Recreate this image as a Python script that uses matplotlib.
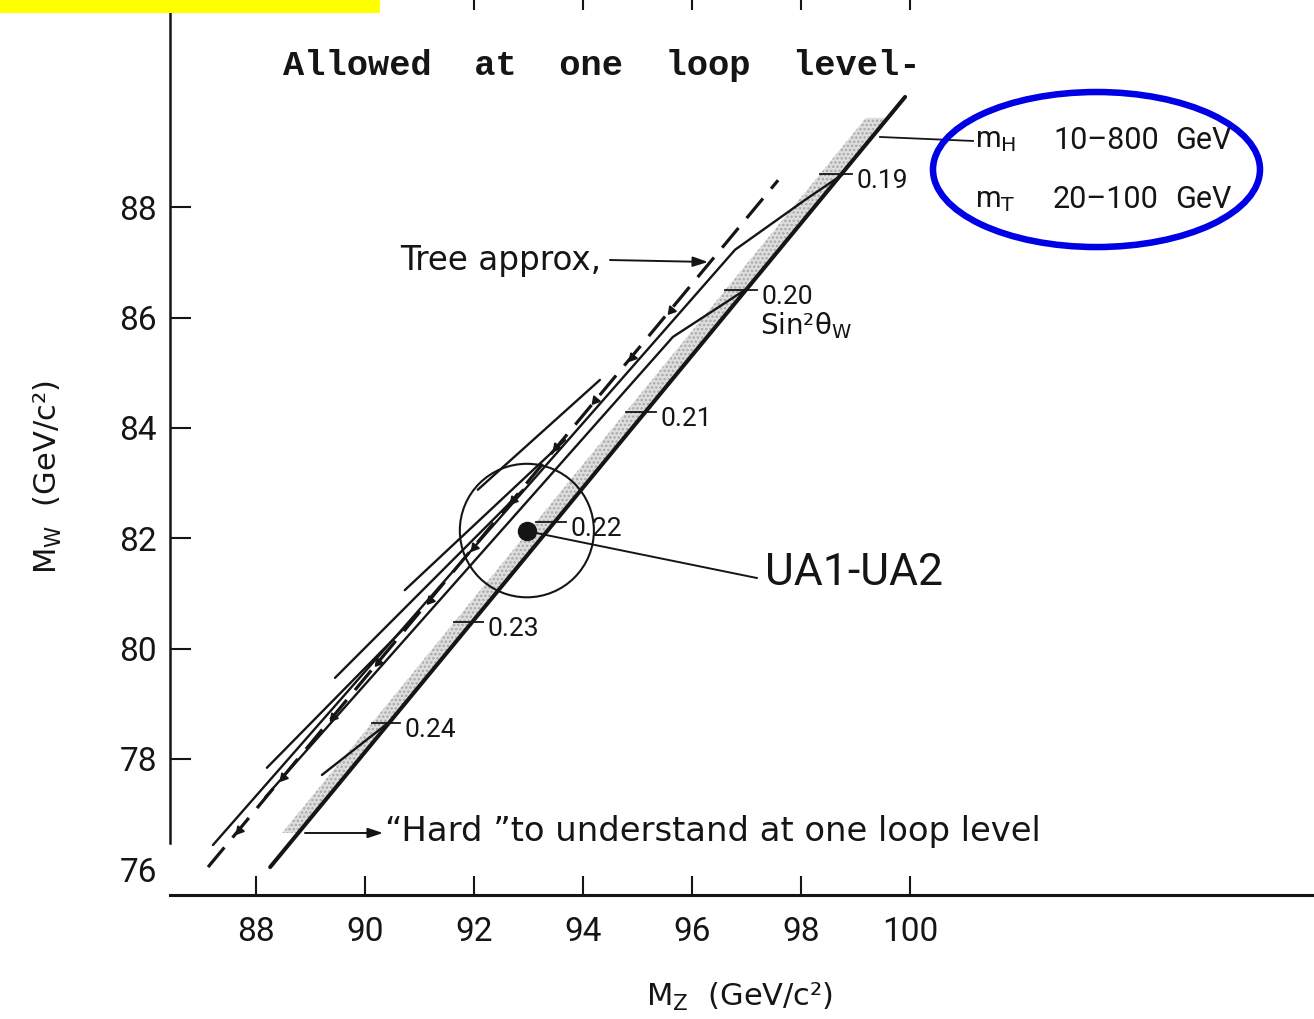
import numpy as np
import matplotlib
matplotlib.use("Agg")
import matplotlib.pyplot as plt
from matplotlib.patches import Ellipse, Rectangle

# ---------------- data ----------------
mz_ticks = [88, 90, 92, 94, 96, 98, 100]
mw_ticks = [76, 78, 80, 82, 84, 86, 88]

# thick right-hand edge of the one-loop region
edge_mz = [88.26, 99.91]
edge_mw = [76.04, 90.00]

# shaded strip ("hard to understand at one loop level")
strip_mw = [76.66, 89.62]
strip_left_mz = [88.48, 99.19]
strip_right_mz = [88.77, 99.59]

# tree approximation (dashed)
tree_mz = [87.12, 97.58]
tree_mw = [76.04, 88.49]
tree_arrow_mw = [76.71, 77.67, 78.76, 79.76, 80.88, 81.84, 82.69, 83.65, 84.50, 85.29, 86.14]

# one-loop curves (thin solid)
loop_a_mz = [87.21, 96.79, 98.07, 98.77]
loop_a_mw = [76.44, 87.23, 88.13, 88.60]
loop_b_mz = [88.17, 95.65, 96.97]
loop_b_mw = [77.31, 85.65, 86.50]
loop_c_mz = [89.21, 90.42]
loop_c_mw = [77.71, 78.65]
outer1_mz = [88.20, 90.83]
outer1_mw = [77.84, 80.48]
outer2_mz = [89.45, 92.90]
outer2_mw = [79.47, 82.88]
outer3_mz = [90.73, 93.67]
outer3_mw = [81.06, 83.78]
outer4_mz = [92.07, 94.31]
outer4_mw = [82.88, 84.87]

# sin^2 theta_W marks along the edge
sin2_labels = ["0.19", "0.20", "0.21", "0.22", "0.23", "0.24"]
sin2_mw = [88.60, 86.50, 84.29, 82.30, 80.48, 78.65]

# UA1-UA2 measurement
ua_mz, ua_mw = 92.97, 82.14
ua_rad_mz, ua_rad_mw = 1.23, 1.21

# ---------------- drawing ----------------
INK = "#151515"
NUM = ["Roboto", "DejaVu Sans"]
SANS = ["DejaVu Sans"]
plt.rcParams["mathtext.fontset"] = "dejavusans"
plt.rcParams["hatch.linewidth"] = 1.2

fig = plt.figure(figsize=(13.14, 10.19), dpi=100)
fig.patch.set_facecolor("white")
ax = fig.add_axes([170 / 1314, 124 / 1019, 1144 / 1314, 895 / 1019])
ax.set_xlim(86.422, 107.413)
ax.set_ylim(75.534, 91.757)
ax.patch.set_alpha(0)

for s in ["top", "right"]:
    ax.spines[s].set_visible(False)
ax.spines["bottom"].set_linewidth(2.2)
ax.spines["bottom"].set_color(INK)
ax.spines["left"].set_linewidth(1.8)
ax.spines["left"].set_color(INK)
ax.spines["left"].set_bounds(76.48, 91.757)

ax.set_xticks(mz_ticks)
ax.set_xticklabels([str(v) for v in mz_ticks])
ax.set_yticks(mw_ticks)
ax.set_yticklabels([str(v) for v in mw_ticks])
ax.tick_params(axis="x", direction="in", length=13.7, width=1.5, pad=15,
               labelsize=24, colors=INK)
ax.tick_params(axis="y", direction="in", length=15, width=1.5, pad=9.4,
               labelsize=24, colors=INK)
for lab in ax.get_xticklabels() + ax.get_yticklabels():
    lab.set_family(NUM)
ax.yaxis.get_major_ticks()[0].tick1line.set_visible(False)

# top tick stubs (cut off at the top edge)
ax.vlines(mz_ticks, 91.576, 91.757, lw=1.5, color=INK, clip_on=False)

# shaded strip (stippled)
ax.fill_betweenx(strip_mw, strip_left_mz, strip_right_mz, facecolor="#dedede",
                 edgecolor="#a8a8a8", hatch="....", lw=0, zorder=1)

# lines
ax.plot(edge_mz, edge_mw, lw=2.9, color=INK, solid_capstyle="round", zorder=3)
ax.plot(tree_mz, tree_mw, lw=2.3, ls=(0, (8, 4)), color=INK, zorder=3)
arrow_mz = np.interp(tree_arrow_mw, tree_mw, tree_mz)
ax.plot(arrow_mz, tree_arrow_mw, ls="none", marker=(3, 0, 140), ms=7, color=INK, zorder=3)
for mz, mw in [(loop_a_mz, loop_a_mw), (loop_b_mz, loop_b_mw), (loop_c_mz, loop_c_mw),
               (outer1_mz, outer1_mw), (outer2_mz, outer2_mw),
               (outer3_mz, outer3_mw), (outer4_mz, outer4_mw)]:
    ax.plot(mz, mw, lw=1.7, color=INK, solid_capstyle="round", zorder=3)

# sin^2 ticks and labels
for lab, mw in zip(sin2_labels, sin2_mw):
    xr = np.interp(mw, edge_mw, edge_mz)
    xl = np.interp(mw, strip_mw, strip_left_mz)
    ax.plot([xl, xr + 0.2], [mw, mw], lw=1.3, color=INK, zorder=3)
    ax.annotate(lab, (xr, mw), xytext=(11, -5), textcoords="offset points",
                ha="left", va="center", fontsize=19, family=NUM, color=INK)
ax.text(97.248, 85.848, "Sin²θ$_\\mathrm{W}$", fontsize=20, family=SANS,
        ha="left", va="center", color=INK)

# UA1-UA2 point and error circle
ax.add_patch(Ellipse((ua_mz, ua_mw), 2 * ua_rad_mz, 2 * ua_rad_mw, fill=False,
                     lw=1.5, ec=INK, zorder=3))
ax.plot([ua_mz], [ua_mw], "o", ms=13, color=INK, zorder=4)
ax.plot([ua_mz + 0.2, 97.19], [ua_mw - 0.05, 81.28], lw=1.4, color=INK, zorder=3)
ax.text(97.339, 81.371, "UA1-UA2", fontsize=32, family=NUM, ha="left",
        va="center", color=INK)

# annotations
ax.text(88.495, 90.578, "Allowed  at  one  loop  level-", fontsize=25.5,
        family=["Liberation Mono", "DejaVu Sans Mono"], fontweight="bold",
        ha="left", va="center", color=INK)
ax.text(90.642, 87.044, "Tree approx,", fontsize=23.5, family=SANS, ha="left",
        va="center", color=INK)
ax.annotate("", xy=(96.294, 87.008), xytext=(94.495, 87.044),
            arrowprops=dict(arrowstyle="-|>,head_length=0.9,head_width=0.3",
                            lw=1.4, color=INK, shrinkA=0, shrinkB=0))
ax.text(90.367, 76.676, "\u201cHard \u201dto understand at one loop level",
        fontsize=24.3, family=SANS, ha="left", va="center", color=INK)
ax.annotate("", xy=(90.33, 76.658), xytext=(88.899, 76.658),
            arrowprops=dict(arrowstyle="-|>,head_length=0.9,head_width=0.3",
                            lw=1.4, color=INK, shrinkA=0, shrinkB=0))

# mH / mT box
ax.plot([99.45, 101.156], [89.274, 89.202], lw=1.3, color=INK)
ax.text(101.193, 89.219, "m$_\\mathrm{H}$", fontsize=21, family=NUM,
        ha="left", va="center", color=INK)
ax.text(101.193, 88.132, "m$_\\mathrm{T}$", fontsize=21, family=NUM,
        ha="left", va="center", color=INK)
ax.text(102.624, 89.219, "10\u2013800", fontsize=22, family=NUM, ha="left",
        va="center", color=INK)
ax.text(102.624, 88.132, "20\u2013100", fontsize=22, family=NUM, ha="left",
        va="center", color=INK)
ax.text(104.862, 89.219, "GeV", fontsize=22, family=NUM, ha="left",
        va="center", color=INK)
ax.text(104.862, 88.132, "GeV", fontsize=22, family=NUM, ha="left",
        va="center", color=INK)
ax.add_patch(Ellipse((103.422, 88.684), 6.0, 2.81, fill=False, lw=4.7,
                     ec="#0000e6", zorder=6))

# axis titles
fig.text(48 / 1314, 1 - 477 / 1019, "M$_\\mathrm{W}$  (GeV/c²)", rotation=90,
         fontsize=22, family=SANS, ha="center", va="center", color=INK)
fig.text(740 / 1314, 1 - 997 / 1019, "M$_\\mathrm{Z}$  (GeV/c²)",
         fontsize=22, family=SANS, ha="center", va="center", color=INK)

# yellow highlight strip at the top-left corner
fig.patches.append(Rectangle((0, 1 - 13 / 1019), 380 / 1314, 13 / 1019,
                             transform=fig.transFigure, facecolor="#ffff00",
                             edgecolor="none", zorder=10))

fig.savefig("out.png", dpi=100)
